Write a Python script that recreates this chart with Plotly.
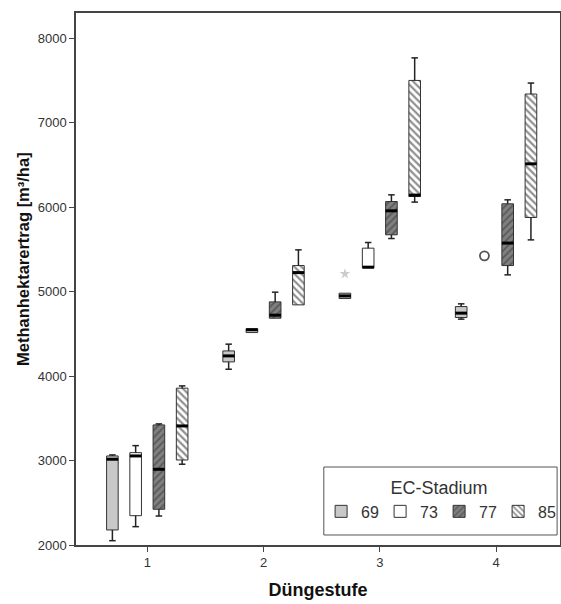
import plotly.graph_objects as go

groups = [1, 2, 3, 4]
series = ["69", "73", "77", "85"]
offsets = [-0.3, -0.1, 0.1, 0.3]

# per series: values for groups 1..4 (None = no box)
q1 = {
    "69": [2178, 4167, 4917, 4692],
    "73": [2347, 4514, 5280, None],
    "77": [2423, 4684, 5671, 5307],
    "85": [3006, 4842, 6124, 5876],
}
median = {
    "69": [3015, 4238, 4948, 4744],
    "73": [3054, 4546, 5288, None],
    "77": [2896, 4720, 5955, 5573],
    "85": [3409, 5224, 6141, 6511],
}
q3 = {
    "69": [3054, 4297, 4980, 4822],
    "73": [3093, 4561, 5513, None],
    "77": [3421, 4877, 6065, 6038],
    "85": [3856, 5307, 7498, 7337],
}
lower = {
    "69": [2051, 4080, 4917, 4673],
    "73": [2217, 4514, 5280, None],
    "77": [2343, 4684, 5627, 5197],
    "85": [2956, 4842, 6058, 5611],
}
upper = {
    "69": [3066, 4377, 4980, 4854],
    "73": [3176, 4561, 5580, None],
    "77": [3433, 4992, 6144, 6085],
    "85": [3883, 5493, 7765, 7467],
}
# outliers: (series, group, value)
outlier_star = [("69", 3, 5209)]
outlier_circle = [("73", 4, 5422)]

y_ticks = [2000, 3000, 4000, 5000, 6000, 7000, 8000]

styles = {
    "69": dict(color="#c8c8c8", pattern=dict(shape="")),
    "73": dict(color="#ffffff", pattern=dict(shape="")),
    "77": dict(color="#7a7a7a", pattern=dict(shape="/", fgcolor="#333333", bgcolor="#808080", size=5, solidity=0.35)),
    "85": dict(color="#ffffff", pattern=dict(shape="\\", fgcolor="#222222", bgcolor="#ffffff", size=5, solidity=0.45)),
}

BOXW = 0.1
CAPW = 0.028

fig = go.Figure()

for si, s in enumerate(series):
    xs, bases, heights = [], [], []
    for gi, g in enumerate(groups):
        if q1[s][gi] is None:
            continue
        xs.append(g + offsets[si])
        bases.append(q1[s][gi])
        heights.append(max(q3[s][gi] - q1[s][gi], 1))
    st = styles[s]
    fig.add_trace(go.Bar(
        x=xs, y=heights, base=bases, width=BOXW, name=s,
        legendgroup=s, showlegend=True,
        marker=dict(color=st["color"], pattern=st["pattern"],
                    line=dict(color="#333333", width=1)),
        hoverinfo="skip",
    ))

# whiskers and caps
for si, s in enumerate(series):
    wx, wy = [], []
    mx, my = [], []
    for gi, g in enumerate(groups):
        if q1[s][gi] is None:
            continue
        xc = g + offsets[si]
        if lower[s][gi] < q1[s][gi]:
            wx += [xc, xc, None, xc - CAPW, xc + CAPW, None]
            wy += [lower[s][gi], q1[s][gi], None, lower[s][gi], lower[s][gi], None]
        if upper[s][gi] > q3[s][gi]:
            wx += [xc, xc, None, xc - CAPW, xc + CAPW, None]
            wy += [q3[s][gi], upper[s][gi], None, upper[s][gi], upper[s][gi], None]
        mx += [xc - BOXW / 2, xc + BOXW / 2, None]
        my += [median[s][gi], median[s][gi], None]
    fig.add_trace(go.Scatter(x=wx, y=wy, mode="lines", line=dict(color="#222222", width=1.5),
                             showlegend=False, hoverinfo="skip"))
    fig.add_trace(go.Scatter(x=mx, y=my, mode="lines", line=dict(color="#000000", width=3),
                             showlegend=False, hoverinfo="skip"))

for s, g, v in outlier_star:
    fig.add_trace(go.Scatter(x=[g + offsets[series.index(s)]], y=[v], mode="markers",
                             marker=dict(symbol="star", size=8, color="#cccccc"),
                             showlegend=False, hoverinfo="skip"))
for s, g, v in outlier_circle:
    fig.add_trace(go.Scatter(x=[g + offsets[series.index(s)]], y=[v], mode="markers",
                             marker=dict(symbol="circle-open", size=9, color="#555555",
                                         line=dict(width=1.8)),
                             showlegend=False, hoverinfo="skip"))

fig.update_layout(
    width=561, height=604,
    margin=dict(l=76, r=1, t=13, b=59, autoexpand=False),
    plot_bgcolor="white", paper_bgcolor="white",
    font=dict(family="Arial, Liberation Sans", size=12, color="#333333"),
    barmode="overlay",
    legend=dict(
        title=dict(text="EC-Stadium", side="top center", font=dict(size=18, color="#333333")),
        orientation="h", x=0.994, xanchor="right", y=0.139, yanchor="top",
        borderwidth=0, bgcolor="rgba(0,0,0,0)",
        font=dict(size=16, color="#333333"),
        entrywidth=14, entrywidthmode="pixels",
        itemwidth=30,
    ),
    shapes=[dict(type="rect", xref="paper", yref="paper", x0=0.512, x1=0.994, y0=0.0188, y1=0.1466,
                 line=dict(color="#555555", width=1), fillcolor="white", layer="above")],
    annotations=[dict(text="<b>Methanhektarertrag [m³/ha]</b>", textangle=-90, xref="paper", yref="paper",
                      x=-0.1095, y=0.5376, xanchor="center", yanchor="middle", showarrow=False,
                      font=dict(size=16.5, color="#111111"))],
    xaxis=dict(
        range=[0.387, 4.55], tickvals=groups, ticktext=[str(g) for g in groups],
        showgrid=False, zeroline=False, showline=True, linecolor="#444444", linewidth=1.5,
        mirror=True, ticks="outside", ticklen=5, tickcolor="#444444", automargin=False,
        title=dict(text="<b>Düngestufe</b>", font=dict(size=18, color="#111111"), standoff=14),
        tickfont=dict(size=13, color="#333333"),
    ),
    yaxis=dict(
        range=[2000, 8296], tickvals=y_ticks,
        showgrid=False, zeroline=False, showline=True, linecolor="#444444", linewidth=1.5,
        mirror=True, ticks="outside", ticklen=5, tickcolor="#444444", automargin=False,
        tickfont=dict(size=13, color="#333333"),
    ),
)

fig.write_html("out.html", config={"displayModeBar": False},
               post_script="document.body.style.margin='0';document.body.style.overflow='hidden';")
